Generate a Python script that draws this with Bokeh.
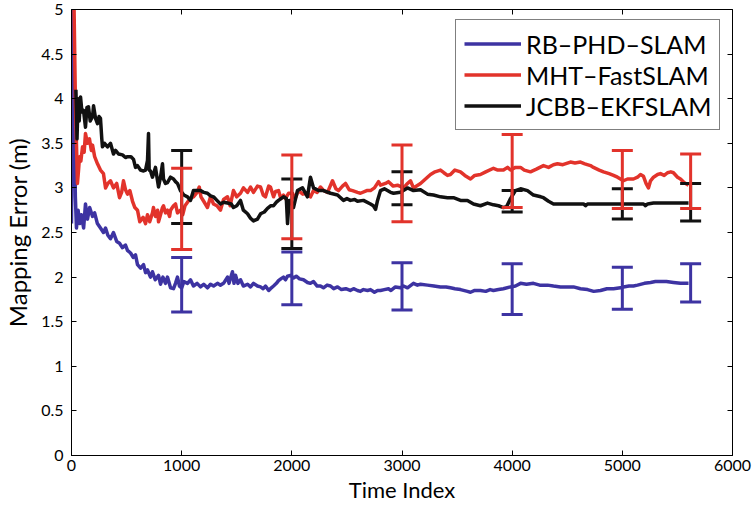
from bokeh.plotting import figure
from bokeh.models import (LinearAxis, FixedTicker, CustomJSTickFormatter, Legend, LegendItem,
                          Whisker, TeeHead, ColumnDataSource)
from bokeh.embed import file_html
from bokeh.resources import INLINE

# ---------------- data ----------------
x_ticks = [0, 1000, 2000, 3000, 4000, 5000, 6000]
y_ticks = [0, 0.5, 1, 1.5, 2, 2.5, 3, 3.5, 4, 4.5, 5]

series_names = ["RB\u2013PHD\u2013SLAM", "MHT\u2013FastSLAM", "JCBB\u2013EKFSLAM"]

rb_t = [0, 12, 35, 45, 60, 75, 90, 110, 127, 145, 165, 191, 210, 235, 263, 290, 309, 330, 354, 381,
        410, 436, 463, 490, 508, 536, 560, 581, 599, 627, 654, 672, 690, 717, 735, 760, 790, 808, 830, 853,
        871, 899, 926, 944, 962, 980, 1000, 1020, 1053, 1080, 1107, 1140, 1171, 1200, 1234, 1262, 1290, 1325,
        1352, 1380, 1416, 1430, 1461, 1475, 1489, 1510, 1534, 1560, 1598, 1625, 1652, 1688, 1716, 1740, 1761,
        1790, 1806, 1834, 1860, 1879, 1900, 1924, 1942, 1961, 1988, 2015, 2040, 2070, 2106, 2142, 2169, 2197,
        2230, 2260, 2287, 2320, 2351, 2380, 2415, 2450, 2490, 2530, 2560, 2596, 2623, 2650, 2687, 2714, 2750,
        2778, 2805, 2840, 2877, 2900, 2940, 2986, 3014, 3050, 3104, 3140, 3168, 3231, 3290, 3349, 3400, 3440,
        3480, 3531, 3594, 3622, 3660, 3712, 3760, 3800, 3830, 3876, 3920, 3985, 4030, 4076, 4130, 4193, 4250,
        4321, 4375, 4439, 4500, 4557, 4620, 4684, 4740, 4802, 4860, 4920, 4983, 5010, 5060, 5101, 5138, 5200,
        5256, 5300, 5346, 5400, 5464, 5528, 5601]
rb_err = [2.6, 5.4, 2.9, 2.55, 2.75, 2.6, 2.7, 2.55, 2.82, 2.65, 2.78, 2.68, 2.72, 2.6, 2.55, 2.5, 2.55, 2.47,
          2.43, 2.5, 2.4, 2.38, 2.33, 2.36, 2.3, 2.27, 2.22, 2.25, 2.14, 2.1, 2.14, 2.05, 2.08, 2.0, 2.06, 1.97,
          2.02, 1.92, 2.0, 1.93, 2.0, 1.88, 1.87, 1.93, 2.0, 1.9, 1.88, 1.95, 1.93, 1.97, 1.9, 1.93, 1.89, 1.92,
          1.88, 1.92, 1.9, 1.93, 1.91, 1.93, 2.0, 1.93, 2.06, 1.93, 2.02, 1.93, 1.97, 1.9, 1.92, 1.89, 1.93,
          1.9, 1.89, 1.87, 1.9, 1.85, 1.87, 1.9, 1.93, 1.96, 1.98, 2.0, 1.97, 2.01, 2.02, 1.99, 2.01, 1.98,
          1.97, 1.94, 1.93, 1.95, 1.9, 1.9, 1.88, 1.91, 1.9, 1.87, 1.89, 1.86, 1.87, 1.85, 1.87, 1.85, 1.84,
          1.86, 1.85, 1.86, 1.83, 1.85, 1.85, 1.86, 1.87, 1.85, 1.89, 1.88, 1.9, 1.88, 1.93, 1.91, 1.92, 1.91,
          1.9, 1.89, 1.89, 1.88, 1.87, 1.86, 1.84, 1.83, 1.85, 1.85, 1.84, 1.86, 1.85, 1.86, 1.87, 1.89, 1.9,
          1.93, 1.92, 1.93, 1.91, 1.91, 1.9, 1.89, 1.89, 1.89, 1.87, 1.86, 1.84, 1.85, 1.87, 1.87, 1.88, 1.89,
          1.9, 1.9, 1.91, 1.93, 1.94, 1.95, 1.95, 1.95, 1.94, 1.93, 1.93]

mht_t = [0, 20, 35, 54, 64, 73, 85, 100, 115, 127, 145, 163, 180, 191, 210, 236, 263, 290, 309, 330, 354, 381,
         410, 436, 455, 472, 490, 508, 530, 554, 575, 599, 620, 650, 672, 690, 710, 735, 744, 762, 781, 790,
         808, 826, 835, 853, 871, 890, 899, 926, 944, 962, 989, 1010, 1030, 1053, 1080, 1107, 1140, 1160, 1175,
         1200, 1234, 1262, 1289, 1320, 1352, 1380, 1416, 1440, 1470, 1500, 1534, 1561, 1598, 1625, 1652, 1688,
         1716, 1740, 1761, 1790, 1806, 1834, 1852, 1879, 1900, 1924, 1942, 1970, 2006, 2030, 2060, 2100, 2142,
         2170, 2197, 2230, 2260, 2290, 2324, 2369, 2400, 2424, 2460, 2487, 2520, 2551, 2596, 2623, 2680, 2714,
         2750, 2787, 2805, 2850, 2877, 2920, 2959, 3014, 3050, 3077, 3104, 3168, 3231, 3259, 3300, 3349, 3380,
         3413, 3440, 3480, 3531, 3570, 3622, 3660, 3712, 3760, 3830, 3870, 3921, 3958, 3985, 4030, 4076, 4110,
         4166, 4220, 4284, 4330, 4375, 4411, 4460, 4529, 4570, 4620, 4660, 4711, 4738, 4790, 4829, 4880, 4920,
         4956, 4983, 5010, 5047, 5101, 5138, 5165, 5192, 5215, 5237, 5256, 5283, 5320, 5346, 5380, 5410, 5440,
         5464, 5501, 5528, 5560, 5601]
mht_err = [5.4, 5.3, 4.0, 3.05, 3.2, 3.35, 3.3, 3.46, 3.4, 3.61, 3.5, 3.55, 3.42, 3.48, 3.35, 3.27, 3.2, 3.16,
           3.0, 3.05, 3.08, 3.0, 3.05, 2.89, 2.95, 3.08, 2.98, 2.93, 2.97, 2.85, 2.78, 2.75, 2.62, 2.67, 2.6,
           2.7, 2.62, 2.72, 2.78, 2.68, 2.75, 2.62, 2.7, 2.78, 2.8, 2.72, 2.75, 2.68, 2.75, 2.8, 2.82, 2.72,
           2.75, 2.7, 2.8, 2.84, 2.88, 2.9, 2.95, 3.01, 2.9, 2.85, 2.78, 2.9, 2.82, 2.8, 2.75, 2.87, 2.9, 2.8,
           2.97, 2.9, 2.94, 3.0, 2.95, 3.01, 2.95, 3.02, 3.01, 2.92, 2.9, 3.02, 3.01, 2.9, 2.96, 2.97, 2.88,
           2.92, 2.88, 2.94, 2.94, 2.88, 2.97, 2.93, 2.94, 2.9, 2.97, 2.95, 3.01, 2.97, 2.95, 3.08, 2.99, 2.97,
           3.02, 3.05, 2.98, 2.97, 2.95, 2.94, 2.97, 2.97, 3.0, 3.07, 3.03, 3.05, 3.07, 3.02, 3.03, 3.0, 3.05,
           3.08, 3.0, 3.05, 3.12, 3.15, 3.18, 3.2, 3.17, 3.14, 3.15, 3.2, 3.18, 3.14, 3.1, 3.14, 3.15, 3.18,
           3.22, 3.2, 3.2, 3.23, 3.2, 3.23, 3.23, 3.2, 3.18, 3.21, 3.25, 3.23, 3.26, 3.27, 3.26, 3.29, 3.28,
           3.29, 3.27, 3.25, 3.23, 3.2, 3.18, 3.16, 3.14, 3.12, 3.1, 3.08, 3.1, 3.1, 3.12, 3.15, 3.13, 3.05,
           3.0, 3.08, 3.12, 3.15, 3.16, 3.14, 3.17, 3.18, 3.17, 3.12, 3.1, 3.06, 3.03]

jc_t = [40, 50, 60, 70, 82, 95, 109, 127, 140, 154, 170, 191, 200, 218, 236, 250, 263, 275, 281, 300, 327,
        354, 381, 400, 427, 463, 490, 508, 540, 563, 581, 599, 626, 654, 672, 690, 699, 705, 717, 735, 762,
        781, 790, 808, 826, 835, 853, 871, 899, 926, 944, 962, 989, 1020, 1053, 1080, 1107, 1140, 1171, 1200,
        1234, 1262, 1289, 1320, 1352, 1380, 1416, 1450, 1470, 1500, 1534, 1560, 1598, 1625, 1652, 1688, 1716,
        1750, 1779, 1810, 1834, 1860, 1879, 1924, 1950, 1961, 1975, 1988, 2015, 2051, 2097, 2142, 2169, 2197,
        2242, 2287, 2351, 2415, 2469, 2500, 2532, 2570, 2596, 2650, 2714, 2740, 2760, 2778, 2805, 2840, 2868,
        2896, 2923, 2986, 3050, 3104, 3168, 3231, 3286, 3349, 3413, 3467, 3531, 3594, 3649, 3712, 3776, 3830,
        3876, 3921, 3950, 3985, 4030, 4076, 4139, 4193, 4260, 4284, 4330, 4375, 4466, 4647, 4666, 4684, 4802,
        4920, 5047, 5150, 5192, 5210, 5230, 5283, 5410, 5601]
jc_err = [4.1, 3.55, 4.0, 3.75, 4.02, 3.85, 3.87, 3.68, 3.9, 3.91, 3.75, 3.8, 3.92, 3.78, 3.72, 3.8, 3.78,
          3.55, 3.46, 3.5, 3.46, 3.5, 3.38, 3.42, 3.38, 3.37, 3.34, 3.35, 3.35, 3.32, 3.23, 3.25, 3.2, 3.19,
          3.2, 3.31, 3.61, 3.2, 3.19, 3.12, 3.23, 3.08, 3.01, 3.12, 3.27, 3.1, 3.05, 3.06, 3.12, 3.1, 3.07,
          3.05, 2.97, 2.92, 2.9, 2.86, 2.97, 2.97, 2.97, 2.95, 2.94, 2.91, 2.9, 2.86, 2.82, 2.84, 2.83, 2.82,
          2.78, 2.8, 2.86, 2.75, 2.71, 2.66, 2.63, 2.65, 2.71, 2.73, 2.77, 2.8, 2.8, 2.84, 2.86, 2.9, 2.88,
          2.6, 2.86, 2.86, 2.78, 2.97, 3.0, 2.9, 3.12, 3.0, 2.97, 2.97, 2.94, 2.92, 2.86, 2.88, 2.86, 2.87,
          2.85, 2.86, 2.82, 2.8, 2.76, 2.86, 2.97, 2.99, 2.97, 2.95, 2.94, 2.95, 3.0, 2.97, 2.98, 2.93, 2.92,
          2.9, 2.89, 2.89, 2.86, 2.86, 2.82, 2.8, 2.83, 2.81, 2.8, 2.78, 2.79, 2.88, 2.97, 2.99, 2.97, 2.92,
          2.9, 2.89, 2.85, 2.82, 2.82, 2.82, 2.8, 2.82, 2.82, 2.82, 2.82, 2.82, 2.82, 2.8, 2.82, 2.83, 2.83,
          2.83]

bar_t = [1000, 2000, 3000, 4000, 5000, 5620]
rb_lo = [1.61, 1.69, 1.63, 1.58, 1.64, 1.72]
rb_hi = [2.22, 2.28, 2.16, 2.15, 2.11, 2.15]
mht_lo = [2.31, 2.43, 2.62, 2.78, 2.77, 2.77]
mht_hi = [3.22, 3.37, 3.48, 3.6, 3.42, 3.38]
jc_lo = [2.6, 2.32, 2.81, 2.73, 2.65, 2.63]
jc_hi = [3.42, 3.1, 3.18, 2.97, 2.99, 3.05]

# ---------------- style ----------------
BLUE = "#3d33a2"
RED = "#e2332b"
BLACK = "#111111"
FONT = "Lato"

p = figure(width=754, height=505, x_range=(0, 6000), y_range=(0, 5),
           output_backend="svg", toolbar_location=None,
           min_border_left=71, min_border_right=22, min_border_top=9, min_border_bottom=50,
           x_axis_label="Time Index", y_axis_label="Mapping Error (m)")
p.grid.visible = False
p.outline_line_color = "black"
p.outline_line_width = 1
p.background_fill_color = "white"
p.border_fill_color = "white"

fmt = CustomJSTickFormatter(code="return tick.toString();")
for ax in p.xaxis + p.yaxis:
    ax.major_tick_in = 5
    ax.major_tick_out = 0
    ax.minor_tick_line_color = None
    ax.axis_line_color = "black"
    ax.major_label_text_font = FONT
    ax.major_label_text_font_size = "16px"
    ax.major_label_text_color = "black"
    ax.axis_label_text_font = FONT
    ax.axis_label_text_font_size = "22px"
    ax.axis_label_text_font_style = "normal"
    ax.axis_label_text_color = "black"
    ax.formatter = fmt
p.xaxis.ticker = FixedTicker(ticks=x_ticks)
p.yaxis.ticker = FixedTicker(ticks=y_ticks)
p.xaxis.major_label_standoff = 4
p.xaxis.axis_label_standoff = 2
p.yaxis.major_label_standoff = 8
p.yaxis.axis_label_standoff = 6
p.yaxis.axis_label_text_font_size = "24px"

blank = CustomJSTickFormatter(code="return '';")
for loc, tk in (("above", x_ticks), ("right", y_ticks)):
    ax = LinearAxis(ticker=FixedTicker(ticks=tk), major_tick_in=5, major_tick_out=0,
                    minor_tick_line_color=None, axis_line_color=None,
                    formatter=blank, major_label_standoff=0)
    p.add_layout(ax, loc)

lw = 3.5
r_rb = p.line(rb_t, rb_err, line_color=BLUE, line_width=lw, line_join="round")
r_mht = p.line(mht_t, mht_err, line_color=RED, line_width=lw, line_join="round")
r_jc = p.line(jc_t, jc_err, line_color=BLACK, line_width=lw, line_join="round")

for lo, hi, col in ((jc_lo, jc_hi, BLACK), (mht_lo, mht_hi, RED), (rb_lo, rb_hi, BLUE)):
    src = ColumnDataSource(dict(base=bar_t, lower=lo, upper=hi))
    w = Whisker(base="base", lower="lower", upper="upper", source=src, dimension="height",
                line_color=col, line_width=3, level="overlay",
                upper_head=TeeHead(size=21, line_color=col, line_width=3),
                lower_head=TeeHead(size=21, line_color=col, line_width=3))
    p.add_layout(w)

legend = Legend(items=[LegendItem(label=series_names[0], renderers=[r_rb]),
                       LegendItem(label=series_names[1], renderers=[r_mht]),
                       LegendItem(label=series_names[2], renderers=[r_jc])],
                location=(384, 325), orientation="vertical",
                label_text_font=FONT, label_text_font_size="25px", label_text_color="black",
                glyph_width=57, glyph_height=31, label_height=31, spacing=0,
                padding=8, margin=0, label_standoff=5,
                border_line_color="black", border_line_width=1.2,
                background_fill_color="white", background_fill_alpha=1)
p.add_layout(legend)

open("out.html", "w").write(file_html(p, INLINE))
